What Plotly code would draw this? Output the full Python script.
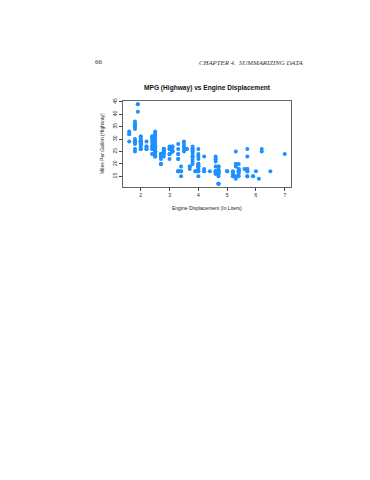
import plotly.graph_objects as go

# Engine displacement (litres) and highway MPG, read column by column
displ = (
    [1.6] * 5 + [1.8] * 14 + [1.9] * 3 + [2.0] * 21 + [2.2] * 6 + [2.4] * 13 + [2.5] * 20
    + [2.7] * 8 + [2.8] * 10 + [3.0] * 8 + [3.1] * 6 + [3.3] * 9 + [3.4] * 4 + [3.5] * 5
    + [3.6] * 2 + [3.7] * 3 + [3.8] * 12 + [3.9] * 3 + [4.0] * 15 + [4.2] * 4 + [4.4] * 1
    + [4.6] * 11 + [4.7] * 17 + [5.0] * 2 + [5.2] * 5 + [5.3] * 6 + [5.4] * 8 + [5.6] * 1
    + [5.7] * 8 + [5.9] * 2 + [6.0] * 1 + [6.1] * 1 + [6.2] * 2 + [6.5] * 1 + [7.0] * 1
)
hwy = (
    [33, 32, 32, 29, 32]
    + [29, 29, 26, 25, 34, 36, 36, 35, 37, 35, 30, 29, 29, 28]
    + [44, 41, 44]
    + [31, 30, 28, 28, 29, 29, 28, 29, 26, 29, 29, 29, 29, 26, 28, 29, 26, 27, 31, 29, 30]
    + [26, 27, 26, 29, 26, 27]
    + [27, 30, 24, 28, 27, 31, 31, 30, 31, 29, 26, 26, 24]
    + [25, 24, 27, 25, 26, 23, 26, 26, 25, 27, 25, 27, 29, 28, 33, 32, 32, 23, 30, 31]
    + [20, 20, 22, 24, 24, 24, 23, 20]
    + [26, 26, 25, 25, 24, 26, 26, 23, 24, 25]
    + [24, 22, 26, 26, 24, 24, 26, 27]
    + [27, 25, 25, 25, 26, 27]
    + [22, 22, 24, 24, 17, 17, 17, 28, 26]
    + [15, 17, 19, 17]
    + [29, 27, 25, 28, 26]
    + [26, 26]
    + [19, 18, 19]
    + [22, 21, 23, 26, 25, 26, 27, 25, 20, 24, 26, 23]
    + [17, 17, 17]
    + [23, 17, 19, 19, 19, 20, 17, 15, 22, 20, 26, 24, 18, 19, 20]
    + [23, 17, 17, 18]
    + [17]
    + [17, 16, 16, 17, 21, 22, 23, 22, 17, 17, 19]
    + [19, 19, 12, 17, 17, 12, 17, 16, 12, 17, 17, 16, 12, 15, 16, 18, 19]
    + [17, 17]
    + [17, 15, 16, 15, 16]
    + [20, 15, 20, 19, 14, 25]
    + [17, 18, 15, 17, 17, 16, 18, 20]
    + [18]
    + [17, 26, 23, 15, 18, 15, 17, 18]
    + [15, 15]
    + [17]
    + [14]
    + [26, 25]
    + [17]
    + [24]
)

x_ticks = [2, 3, 4, 5, 6, 7]
y_ticks = [15, 20, 25, 30, 35, 40, 45]

title = "MPG (Highway) vs Engine Displacement"
x_title = "Engine Displacement (In Liters)"
y_title = "Miles Per Gallon (Highway)"
page_no = "66"
running_head = "CHAPTER 4.  SUMMARIZING DATA"

OFF = 8  # page body margin
W, H = 370 - 2 * OFF, 480 - 2 * OFF
L, R, T, B = 123 - OFF, 291 - OFF, 101 - OFF, 187 - OFF  # plot area in figure px
pw, ph = R - L, B - T


def px_x(px):
    return (px - OFF - L) / pw


def px_y(py):
    return (B - (py - OFF)) / ph


fig = go.Figure()
fig.add_trace(go.Scatter(
    x=displ, y=hwy, mode="markers",
    marker=dict(color="#1E90FF", size=4.0, line=dict(width=0)),
    hoverinfo="x+y",
))

axis_font = dict(family="Liberation Sans, Arial, sans-serif", size=5, color="#222")

fig.update_layout(
    width=W, height=H,
    margin=dict(l=L, r=W - R, t=T, b=H - B, pad=0),
    paper_bgcolor="white", plot_bgcolor="white",
    showlegend=False,
    xaxis=dict(
        range=[1.384, 7.216], tickvals=x_ticks, ticks="outside", ticklen=3,
        tickwidth=0.6, tickcolor="#444", showgrid=False, zeroline=False,
        showline=True, mirror=True, linecolor="#666", linewidth=0.6,
        tickfont=axis_font, fixedrange=True,
    ),
    yaxis=dict(
        range=[10.72, 45.28], tickvals=y_ticks, ticks="outside", ticklen=3,
        tickwidth=0.6, tickcolor="#444", showgrid=False, zeroline=False,
        showline=True, mirror=True, linecolor="#666", linewidth=0.6,
        tickfont=axis_font, tickangle=-90, fixedrange=True,
    ),
)

ann = []
ann.append(dict(text="<b>" + title + "</b>", x=px_x(207), y=px_y(88),
                xref="paper", yref="paper", showarrow=False, xanchor="center", yanchor="middle",
                font=dict(family="Liberation Sans, Arial, sans-serif", size=6.6, color="#111")))
ann.append(dict(text=x_title, x=px_x(207), y=px_y(208),
                xref="paper", yref="paper", showarrow=False, xanchor="center", yanchor="middle",
                font=axis_font))
ann.append(dict(text=y_title, x=px_x(102), y=px_y(144), textangle=-90,
                xref="paper", yref="paper", showarrow=False, xanchor="center", yanchor="middle",
                font=axis_font))
ann.append(dict(text=page_no, x=px_x(93), y=px_y(62),
                xref="paper", yref="paper", showarrow=False, xanchor="left", yanchor="middle",
                font=dict(family="Liberation Serif, Times New Roman, serif", size=7, color="#333")))
ann.append(dict(text="<i>" + running_head + "</i>", x=px_x(305), y=px_y(62),
                xref="paper", yref="paper", showarrow=False, xanchor="right", yanchor="middle",
                font=dict(family="Liberation Serif, Times New Roman, serif", size=6.8, color="#333")))
fig.update_layout(annotations=ann)

fig.write_html("out.html", config={"displayModeBar": False})
